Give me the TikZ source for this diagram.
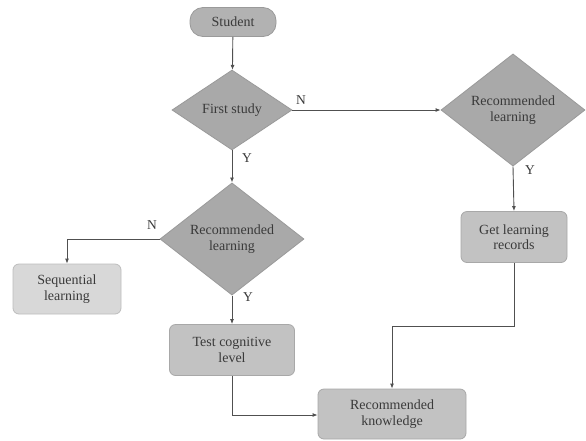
\documentclass[tikz,border=0pt]{standalone}
\usepackage{fontspec}
\setmainfont{Liberation Serif}
\usetikzlibrary{shapes.geometric,arrows.meta}
\definecolor{txt}{HTML}{3A3A3A}
\definecolor{ln}{HTML}{505050}
\definecolor{dfill}{HTML}{A9A9A9}
\definecolor{dedge}{HTML}{9A9A9A}
\definecolor{pfill}{HTML}{B2B2B2}
\definecolor{bfill}{HTML}{C2C2C2}
\definecolor{bedge}{HTML}{A8A8A8}
\definecolor{lfill}{HTML}{D8D8D8}
\definecolor{ledge}{HTML}{BDBDBD}
\begin{document}
\begin{tikzpicture}[x=1pt,y=-1pt,
  every node/.style={font=\fontsize{14}{15.5}\selectfont, text=txt, align=center},
  decision/.style={diamond, draw=dedge, fill=dfill, inner sep=0pt, line width=0.8pt},
  procbox/.style={rectangle, rounded corners=6pt, draw=bedge, fill=bfill, inner sep=0pt, line width=0.8pt},
  lightbox/.style={procbox, draw=ledge, fill=lfill},
  pill/.style={rectangle, rounded corners=13pt, draw=dedge, fill=pfill, inner sep=0pt, line width=0.8pt, minimum width=86pt, minimum height=29pt},
  conn/.style={draw=ln, line width=0.9pt, -{Latex[length=5pt,width=4pt]}},
  lbl/.style={font=\fontsize{13.5}{15}\selectfont, text=txt}
]
\useasboundingbox[fill=white] (0,0) rectangle (586,440);

\node[pill] (student) at (233,22) {Student};
\node[decision, minimum width=120pt, minimum height=80pt] (first) at (232,110) {First study};
\node[decision, minimum width=144pt, minimum height=100pt] (recR) at (513,110) {Recommended\\learning};
\node[decision, minimum width=144pt, minimum height=98pt] (recM) at (232,239) {Recommended\\learning};
\node[lightbox, minimum width=108pt, minimum height=50pt] (seq) at (67,289) {Sequential\\learning};
\node[procbox, minimum width=125pt, minimum height=51pt] (test) at (232,350) {Test cognitive\\level};
\node[procbox, minimum width=106pt, minimum height=51pt] (glr) at (514,237) {Get learning\\records};
\node[procbox, minimum width=148pt, minimum height=50pt] (rk) at (392,414) {Recommended\\knowledge};

\coordinate (c1) at (67,239);
\coordinate (c2) at (514,326);
\coordinate (c3) at (392,326);
\coordinate (c4) at (232,415);

\draw[conn] (student) -- (first);
\draw[conn] (first.east) -- (recR.west);
\draw[conn] (first.south) -- (recM.north);
\draw[conn] (recM.west) -- (c1) -- (seq.north);
\draw[conn] (recM.south) -- (test.north);
\draw[conn] (recR.south) -- (glr.north);
\draw[conn] (glr.south) -- (c2) -- (c3) -- (rk.north);
\draw[conn] (test.south) -- (c4) -- (rk.west |- c4);

\node[lbl] (n1) at (301,100) {N};
\node[lbl] (y1) at (247,158) {Y};
\node[lbl] (n2) at (152,225) {N};
\node[lbl] (y2) at (248,297) {Y};
\node[lbl] (y3) at (530,170) {Y};
\end{tikzpicture}
\end{document}
